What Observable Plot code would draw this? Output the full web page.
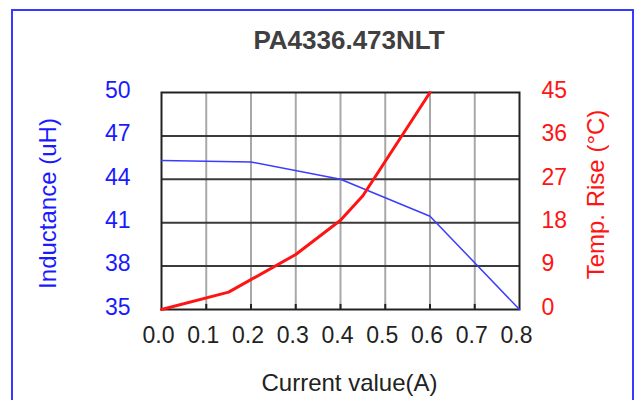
<!DOCTYPE html>
<html>
<head>
<meta charset="utf-8">
<script src="https://cdn.jsdelivr.net/npm/d3@7"></script>
<script src="https://cdn.jsdelivr.net/npm/@observablehq/plot@0.6"></script>
<style>
  html, body { margin: 0; padding: 0; background: #fff; }
  #wrap { position: relative; width: 639px; height: 400px; overflow: hidden; }
  #border { position: absolute; left: 11px; top: 9px; width: 623px; height: 420px; border: 2px solid #3838ff; box-sizing: border-box; }
  #chart { position: absolute; left: 0; top: 0; }
</style>
</head>
<body>
<div id="wrap"><div id="border"></div><div id="chart"></div></div>
<script>
const title = "PA4336.473NLT";
const xLabel = "Current value(A)";
const yLeftLabel = "Inductance (uH)";
const yRightLabel = "Temp. Rise (°C)";

const xTicks = [0, 0.1, 0.2, 0.3, 0.4, 0.5, 0.6, 0.7, 0.8];
const inductanceTicks = [35, 38, 41, 44, 47, 50];
const tempTicks = [0, 9, 18, 27, 36, 45];

const inductanceCurrent = [0, 0.2, 0.4, 0.6, 0.8];
const inductance = [45.3, 45.2, 44.0, 41.45, 35];

const tempCurrent = [0, 0.15, 0.3, 0.4, 0.45, 0.6];
const tempRise = [0, 3.6, 11.4, 18.5, 23.6, 45];

// map temperature (0–45) onto the inductance scale (35–50)
const tToY = t => 35 + (t - 0) * (50 - 35) / (45 - 0);

const indData = inductanceCurrent.map((x, i) => ({x, y: inductance[i]}));
const tempData = tempCurrent.map((x, i) => ({x, y: tToY(tempRise[i])}));

const font = "'Liberation Sans', Arial, sans-serif";

const chart = Plot.plot({
  width: 639,
  height: 400,
  marginLeft: 161,
  marginRight: 120,
  marginTop: 92,
  marginBottom: 91,
  style: {fontFamily: font, background: "transparent", overflow: "visible"},
  x: {domain: [0, 0.8]},
  y: {domain: [35, 50]},
  marks: [
    Plot.gridX(xTicks.slice(1, -1), {stroke: "#a8a8a8", strokeOpacity: 1, strokeWidth: 2}),
    Plot.gridY(inductanceTicks.slice(1, -1), {stroke: "#3a3a3a", strokeOpacity: 1, strokeWidth: 2}),
    Plot.ruleX(xTicks.slice(1, -1), {x: d => d, y1: 35, y2: 35.35, stroke: "#222", strokeWidth: 2}),
    Plot.frame({stroke: "#222", strokeWidth: 2}),
    Plot.line(indData, {x: "x", y: "y", stroke: "#3c3cff", strokeWidth: 1.5}),
    Plot.line(tempData, {x: "x", y: "y", stroke: "#ff1414", strokeWidth: 3}),
    Plot.axisX({ticks: xTicks, tickSize: 0, tickPadding: 17, tickFormat: d3.format(".1f"),
      fontSize: 23, fill: "#222", dx: -3, label: null}),
    Plot.axisY({anchor: "left", ticks: inductanceTicks, tickSize: 0, tickPadding: 31,
      fontSize: 23, fill: "#1a1aff", dy: -2, label: null}),
    Plot.axisY({anchor: "right", ticks: inductanceTicks, tickSize: 0, tickPadding: 22,
      tickFormat: (v, i) => tempTicks[i], fontSize: 23, fill: "#ff1414", dy: -2, label: null}),
    Plot.text([title], {frameAnchor: "top", text: d => d, dx: 8.5, dy: -51.5, lineAnchor: "middle",
      textAnchor: "middle", fontSize: 26, fontWeight: "bold", fill: "#404040"}),
    Plot.text([xLabel], {frameAnchor: "bottom", text: d => d, dx: 9, dy: 74, lineAnchor: "middle",
      textAnchor: "middle", fontSize: 24, fill: "#222"}),
    Plot.text([yLeftLabel], {frameAnchor: "left", text: d => d, dx: -113, dy: 2.5, rotate: -90,
      textAnchor: "middle", lineAnchor: "middle", fontSize: 24, fill: "#1a1aff"}),
    Plot.text([yRightLabel], {frameAnchor: "right", text: d => d, dx: 77, dy: -6.5, rotate: -90,
      textAnchor: "middle", lineAnchor: "middle", fontSize: 24, fill: "#ff1414"})
  ]
});
document.getElementById("chart").appendChild(chart);
</script>
</body>
</html>
